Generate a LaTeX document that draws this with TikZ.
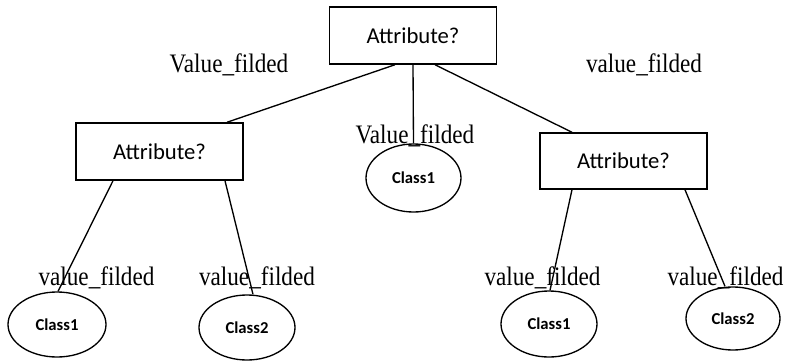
\documentclass[tikz,border=0pt]{standalone}
\usepackage{fontspec}
\usepackage{graphicx}
\setmainfont{Liberation Serif}
\newfontfamily\calfont{Carlito}
\usetikzlibrary{shapes.geometric,calc}
\tikzset{
  attrbox/.style={draw, line width=1.1pt, rectangle, inner sep=0pt, minimum width=125.25pt, minimum height=42.75pt, font=\calfont\fontsize{17}{20}\selectfont},
  leaf/.style={draw, line width=1pt, ellipse, inner sep=0pt, font=\calfont\bfseries\fontsize{12.5}{14}\selectfont},
  lbl/.style={anchor=base, inner sep=0pt, font=\fontsize{20}{24}\selectfont},
  edge/.style={line width=1pt}
}
\newcommand{\sqz}[1]{\scalebox{0.87}[1]{#1}}
\begin{document}
\begin{tikzpicture}[x=0.75pt,y=-0.75pt]
\useasboundingbox (0,0) rectangle (786,361);
% boxes
\node[attrbox] (root) at (413,35.5) {Attribute?};
\node[attrbox] (lbox) at (159.5,151.5) {Attribute?};
\node[attrbox, minimum height=42pt] (rbox) at (623.5,161) {Attribute?};
% leaves
\node[leaf, minimum width=71.25pt, minimum height=51pt] (mc1) at (413.5,178) {Class1};
\node[leaf, minimum width=73.5pt, minimum height=48.75pt] (lc1) at (57,324.5) {Class1};
\node[leaf, minimum width=72pt, minimum height=48.75pt] (lc2) at (247,327.5) {Class2};
\node[leaf, minimum width=72pt, minimum height=49.5pt] (rc1) at (549,324) {Class1};
\node[leaf, minimum width=70.5pt, minimum height=47.25pt] (rc2) at (733,318.5) {Class2};
% edges
\draw[edge] ($(root.south)+(-18,0)$) -- ($(lbox.north)+(67.5,0)$);
\draw[edge] (root.south) -- (mc1.north);
\draw[edge] ($(root.south)+(22,0)$) -- ($(rbox.north)+(-51.5,0)$);
\draw[edge] ($(lbox.south)+(-46.5,0)$) -- ($(lc1.north)+(1,0)$);
\draw[edge] ($(lbox.south)+(65.5,0)$) -- ($(lc2.north)+(6,0)$);
\draw[edge] ($(rbox.south)+(-51.5,0)$) -- ($(rc1.north)+(1,0)$);
\draw[edge] ($(rbox.south)+(61.5,0)$) -- ($(rc2.north)+(-8,0)$);
% labels
\node[lbl] (t1) at (229,72) {\sqz{Value\_filded}};
\node[lbl] (t2) at (644,72) {\sqz{value\_filded}};
\node[lbl] (t3) at (415,143) {\sqz{Value\_filded}};
\node[lbl] (t4) at (96.5,285) {\sqz{value\_filded}};
\node[lbl] (t5) at (257,285) {\sqz{value\_filded}};
\node[lbl] (t6) at (542.5,285) {\sqz{value\_filded}};
\node[lbl] (t7) at (725.5,285) {\sqz{value\_filded}};
\end{tikzpicture}
\end{document}
